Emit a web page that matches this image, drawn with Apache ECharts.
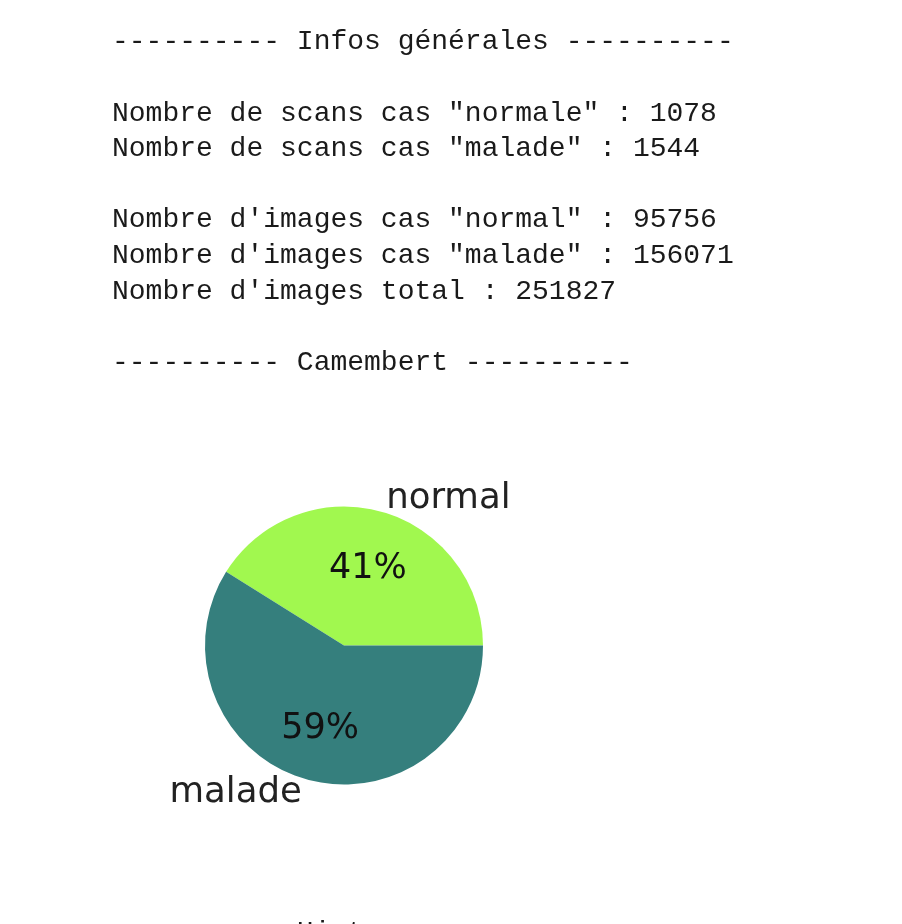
<!DOCTYPE html>
<html>
<head>
<meta charset="utf-8">
<script src="https://cdn.jsdelivr.net/npm/echarts@6/dist/echarts.min.js"></script>
<style>
html,body{margin:0;padding:0;background:#fff;}
#chart{width:902px;height:924px;}
</style>
</head>
<body>
<div id="chart"></div>
<script>
// Data
const categories = ['normal', 'malade'];
const scanCounts = [1078, 1544];
const imageCounts = [95756, 156071];
const imageTotal = 251827;
const sliceColors = ['#a1f84f', '#357f7d'];

// Printed text lines (line index, text)
const textLines = [
  [0, '---------- Infos générales ----------'],
  [2, 'Nombre de scans cas "normale" : ' + scanCounts[0]],
  [3, 'Nombre de scans cas "malade" : ' + scanCounts[1]],
  [5, 'Nombre d\'images cas "normal" : ' + imageCounts[0]],
  [6, 'Nombre d\'images cas "malade" : ' + imageCounts[1]],
  [7, 'Nombre d\'images total : ' + imageTotal],
  [9, '---------- Camembert ----------']
];
const bottomText = '---------- Histogramme ----------';

const chart = echarts.init(document.getElementById('chart'), null, {renderer: 'canvas'});

const LINE0 = 42, LINEH = 35.6, TX = 112;
const graphics = textLines.map(([k, t]) => ({
  type: 'text', left: TX, top: LINE0 + LINEH * k - 14,
  style: {text: t, font: '28px "Liberation Mono", monospace', fill: '#1a1a1a', textVerticalAlign: 'top'}
}));
graphics.push({
  type: 'text', left: TX, top: 919,
  style: {text: bottomText, font: '28px "Liberation Mono", monospace', fill: '#1a1a1a'}
});

const R = 139, CX = 344, CY = 645.5;
const pieData = categories.map((c, i) => ({name: c, value: scanCounts[i], itemStyle: {color: sliceColors[i]}}));
const pctData = categories.map((c, i) => ({
  name: c, value: scanCounts[i],
  label: {offset: [0, i === 0 ? 6 : 0]}
}));

chart.setOption({
  animation: false,
  backgroundColor: '#fff',
  graphic: graphics,
  series: [
    {
      type: 'pie',
      center: [CX, CY],
      radius: [0, R],
      startAngle: 0,
      clockwise: false,
      avoidLabelOverlap: false,
      silent: true,
      data: pieData,
      label: {
        show: true,
        position: 'outside',
        formatter: '{b}',
        fontFamily: 'DejaVu Sans',
        fontSize: 35.5,
        color: '#222',
        distanceToLabelLine: 0
      },
      labelLine: {show: false, length: 14, length2: 0},
      emphasis: {disabled: true}
    },
    {
      type: 'pie',
      center: [CX, CY],
      radius: [R * 0.2, R],
      startAngle: 0,
      clockwise: false,
      avoidLabelOverlap: false,
      silent: true,
      percentPrecision: 0,
      data: pctData,
      itemStyle: {color: 'rgba(0,0,0,0)'},
      label: {
        show: true,
        position: 'inside',
        formatter: '{d}%',
        fontFamily: 'DejaVu Sans',
        fontSize: 35,
        color: '#111'
      },
      labelLine: {show: false},
      emphasis: {disabled: true}
    }
  ]
});
</script>
</body>
</html>
